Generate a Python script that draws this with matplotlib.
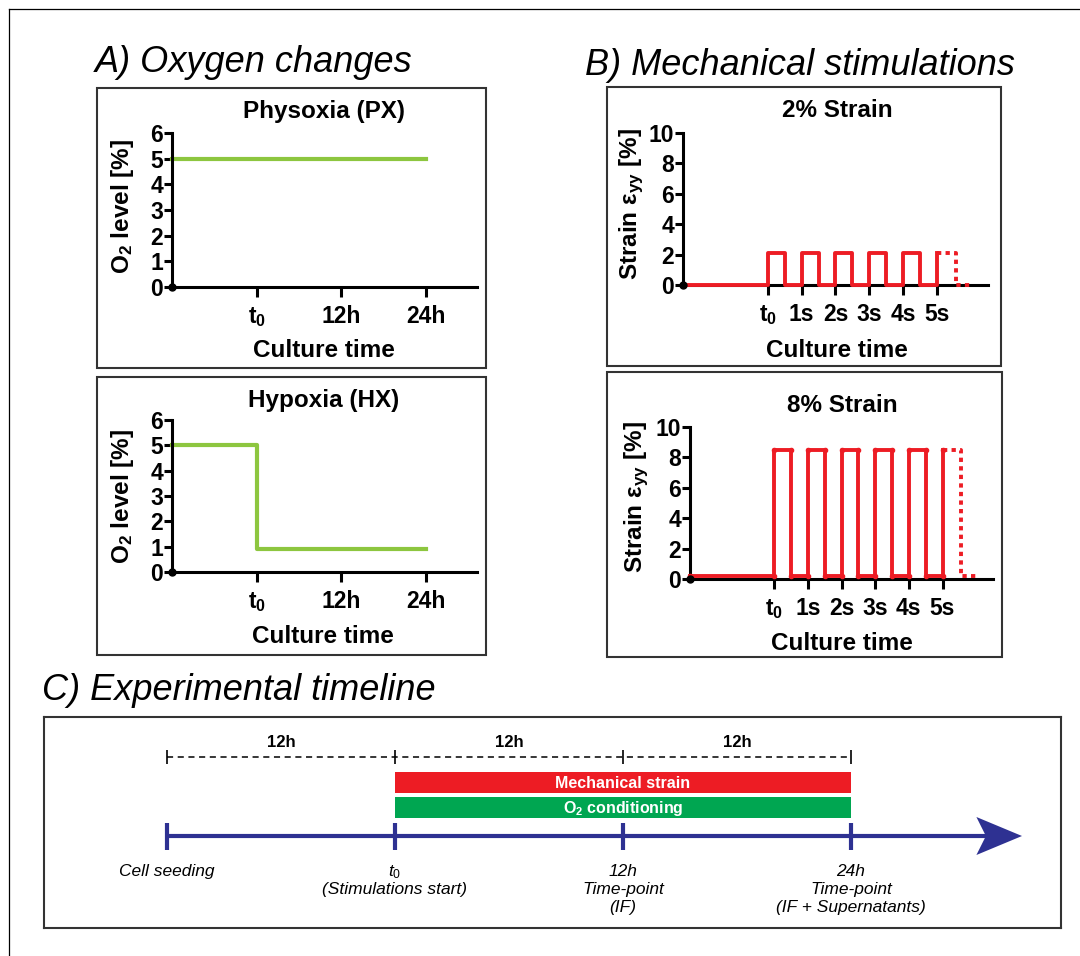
import matplotlib
matplotlib.use("Agg")
import matplotlib.pyplot as plt
from matplotlib.patches import Rectangle

plt.rcParams['font.family'] = ['Liberation Sans', 'DejaVu Sans']
plt.rcParams['mathtext.fontset'] = 'custom'
plt.rcParams['mathtext.rm'] = 'Liberation Sans'
plt.rcParams['mathtext.bf'] = 'Liberation Sans:bold'
plt.rcParams['mathtext.it'] = 'Liberation Sans:italic'

# ============================================================================ #
# data

# A) oxygen levels over culture time (t0 = 1, 12h = 2, 24h = 3)
oxy_ticks  = [1, 2, 3]
oxy_labels = [r'$\mathbf{t_0}$', '12h', '24h']
oxy_yticks = [0, 1, 2, 3, 4, 5, 6]

px_time = [0, 3]
px_o2   = [5, 5]

hx_time = [0, 1, 1, 3]
hx_o2   = [5, 5, 0.9, 0.9]

# B) cyclic strain, 1 Hz square wave
strain_ticks  = [0, 1, 2, 3, 4, 5]
strain_labels = [r'$\mathbf{t_0}$', '1s', '2s', '3s', '4s', '5s']
strain_yticks = [0, 2, 4, 6, 8, 10]

cyc_time = [-2.5, 0, 0, 0.5, 0.5, 1, 1, 1.5, 1.5, 2, 2, 2.5, 2.5,
            3, 3, 3.5, 3.5, 4, 4, 4.5, 4.5, 5, 5]
strain2  = [0, 0, 2.1, 2.1, 0, 0, 2.1, 2.1, 0, 0, 2.1, 2.1, 0,
            0, 2.1, 2.1, 0, 0, 2.1, 2.1, 0, 0, 2.1]
strain8  = [0.2, 0.2, 8.5, 8.5, 0.2, 0.2, 8.5, 8.5, 0.2, 0.2, 8.5, 8.5, 0.2,
            0.2, 8.5, 8.5, 0.2, 0.2, 8.5, 8.5, 0.2, 0.2, 8.5]

tail_time = [5, 5.55, 5.55, 6.0]
tail2     = [2.1, 2.1, 0, 0]
tail8     = [8.5, 8.5, 0.2, 0.2]

# C) experimental timeline, hours
tl_marks  = [-12, 0, 12, 24]
tl_texts  = [["Cell seeding"],
             [r"$\mathit{t_0}$", "(Stimulations start)"],
             ["12h", "Time-point", "(IF)"],
             ["24h", "Time-point", "(IF + Supernatants)"]]
span_mid  = [-6, 6, 18]
span_text = ["12h", "12h", "12h"]
stim_start = 0
stim_hours = 24
stim_names = ["Mechanical strain", r"O$_\mathbf{2}$ conditioning"]

GREEN = "#8DC63F"
RED   = "#ED1C24"
BLUE  = "#2E3192"

# ============================================================================ #
# figure in pixel layout

W, H = 1080, 956
fig = plt.figure(figsize=(W / 100, H / 100), dpi=100)

bg = fig.add_axes([0, 0, 1, 1])
bg.set_xlim(0, W)
bg.set_ylim(H, 0)
bg.axis("off")

bg.plot([9, 9], [9, H], color="black", lw=0.9)
bg.plot([9, W], [9, 9], color="black", lw=0.9)

for (x0, y0, x1, y1) in [(97, 88, 486, 368), (97, 377, 486, 655),
                         (607, 87, 1001, 366), (607, 372, 1002, 657)] :
    bg.add_patch(Rectangle((x0, y0), x1 - x0, y1 - y0, fill=False,
                           ec="#333333", lw=1.5))

bg.text(95, 72, "A) Oxygen changes", fontsize=26, style="italic", va="baseline")
bg.text(585, 75, "B) Mechanical stimulations", fontsize=26, style="italic", va="baseline")
bg.text(42, 700, "C) Experimental timeline", fontsize=26, style="italic", va="baseline")


def add_ax(x0, x1, ytop, ybot) :
    return fig.add_axes([x0 / W, 1 - ybot / H, (x1 - x0) / W, (ybot - ytop) / H])


def style(ax, xlim, ylim, xt, xl, yt) :
    ax.set_xlim(*xlim)
    ax.set_ylim(*ylim)
    ax.patch.set_alpha(0)
    for s in ("top", "right") :
        ax.spines[s].set_visible(False)
    for s in ("left", "bottom") :
        ax.spines[s].set_linewidth(2.2)
    ax.set_xticks(xt)
    ax.set_xticklabels(xl)
    ax.set_yticks(yt)
    ax.tick_params(axis="x", length=7, width=2.2, pad=6, labelsize=16.5)
    ax.tick_params(axis="y", length=6, width=2.2, pad=0.5, labelsize=16.5)
    for lab in ax.get_xticklabels() + ax.get_yticklabels() :
        lab.set_fontweight("bold")
    ax.plot([xlim[0]], [0], "o", color="black", ms=5, clip_on=False, zorder=6)


panel_text = dict(fontsize=17.5, fontweight="bold", ha="center")

# ---------------------------------------------------------------------------- #
# A) oxygen

axA1 = add_ax(172, 477, 133, 287)
style(axA1, (0, 3.6), (0, 6), oxy_ticks, oxy_labels, oxy_yticks)
axA1.plot(px_time, px_o2, color=GREEN, lw=3, clip_on=False)

axA2 = add_ax(172, 477, 420, 572)
style(axA2, (0, 3.6), (0, 6), oxy_ticks, oxy_labels, oxy_yticks)
axA2.plot(hx_time, hx_o2, color=GREEN, lw=3, clip_on=False)

bg.text(324, 118, "Physoxia (PX)", va="baseline", **panel_text)
bg.text(324, 407, "Hypoxia (HX)", va="baseline", **panel_text)
bg.text(324, 357, "Culture time", va="baseline", **panel_text)
bg.text(323, 643, "Culture time", va="baseline", **panel_text)
bg.text(122, 207, r"O$_\mathbf{2}$ level [%]", rotation=90, va="center", **panel_text)
bg.text(122, 497, r"O$_\mathbf{2}$ level [%]", rotation=90, va="center", **panel_text)

# ---------------------------------------------------------------------------- #
# B) strain

axB1 = add_ax(683, 988, 133, 285)
style(axB1, (-2.5, 6.5), (0, 10), strain_ticks, strain_labels, strain_yticks)
axB1.plot(cyc_time, strain2, color=RED, lw=2.8, clip_on=False, zorder=5)
axB1.plot(tail_time, tail2, color=RED, lw=2.8, dashes=(1.1, 1.1), clip_on=False, zorder=5)

axB2 = add_ax(690, 993, 427, 579)
style(axB2, (-2.5, 6.5), (0, 10), strain_ticks, strain_labels, strain_yticks)
axB2.plot(cyc_time, strain8, color=RED, lw=2.8, marker="o", ms=3,
          clip_on=False, zorder=5)
axB2.plot(tail_time, tail8, color=RED, lw=2.8, dashes=(1.1, 1.1), clip_on=False, zorder=5)

bg.text(837, 117, "2% Strain", va="baseline", **panel_text)
bg.text(842, 412, "8% Strain", va="baseline", **panel_text)
bg.text(837, 357, "Culture time", va="baseline", **panel_text)
bg.text(842, 650, "Culture time", va="baseline", **panel_text)
bg.text(632, 204, r"Strain ε$_\mathbf{yy}$ [%]", rotation=90, va="center", **panel_text)
bg.text(637, 497, r"Strain ε$_\mathbf{yy}$ [%]", rotation=90, va="center", **panel_text)

# ---------------------------------------------------------------------------- #
# C) timeline

axC = add_ax(44, 1061, 717, 928)
axC.set_xlim((44 - 395) / 19, (1061 - 395) / 19)
axC.set_ylim(928, 717)
axC.set_xticks([])
axC.set_yticks([])
for s in axC.spines.values() :
    s.set_color("#333333")
    s.set_linewidth(1.5)

# dashed 12h ruler
axC.plot([tl_marks[0], tl_marks[-1]], [757, 757], color="black", lw=1.1, dashes=(4, 3))
axC.plot(tl_marks, [757] * len(tl_marks), ls="none", marker="|", ms=10, mew=1.2,
         color="black")
for x, s in zip(span_mid, span_text) :
    axC.text(x, 747, s, fontsize=12, fontweight="bold", ha="center", va="baseline")

# stimulation bars
axC.barh([782.5, 807.5], [stim_hours, stim_hours], left=stim_start, height=21,
         color=[RED, "#00A651"])
axC.text(stim_start + stim_hours / 2, 787.5, stim_names[0], color="white",
         fontsize=11.5, fontweight="bold", ha="center", va="baseline")
axC.text(stim_start + stim_hours / 2, 812.5, stim_names[1], color="white",
         fontsize=11.5, fontweight="bold", ha="center", va="baseline")

# time arrow
axC.plot([tl_marks[0], 31.1], [836, 836], color=BLUE, lw=3, solid_capstyle="butt")
axC.fill([30.6, 33.0, 30.6, 31.1], [817, 836, 855, 836], color=BLUE, lw=0)
for x in tl_marks :
    axC.plot([x, x], [823, 850], color=BLUE, lw=3, solid_capstyle="butt")

for x, lines in zip(tl_marks, tl_texts) :
    for i, s in enumerate(lines) :
        axC.text(x, 876 + 18 * i, s, fontsize=12.5, style="italic",
                 ha="center", va="baseline")

fig.savefig("out.png", dpi=100)
